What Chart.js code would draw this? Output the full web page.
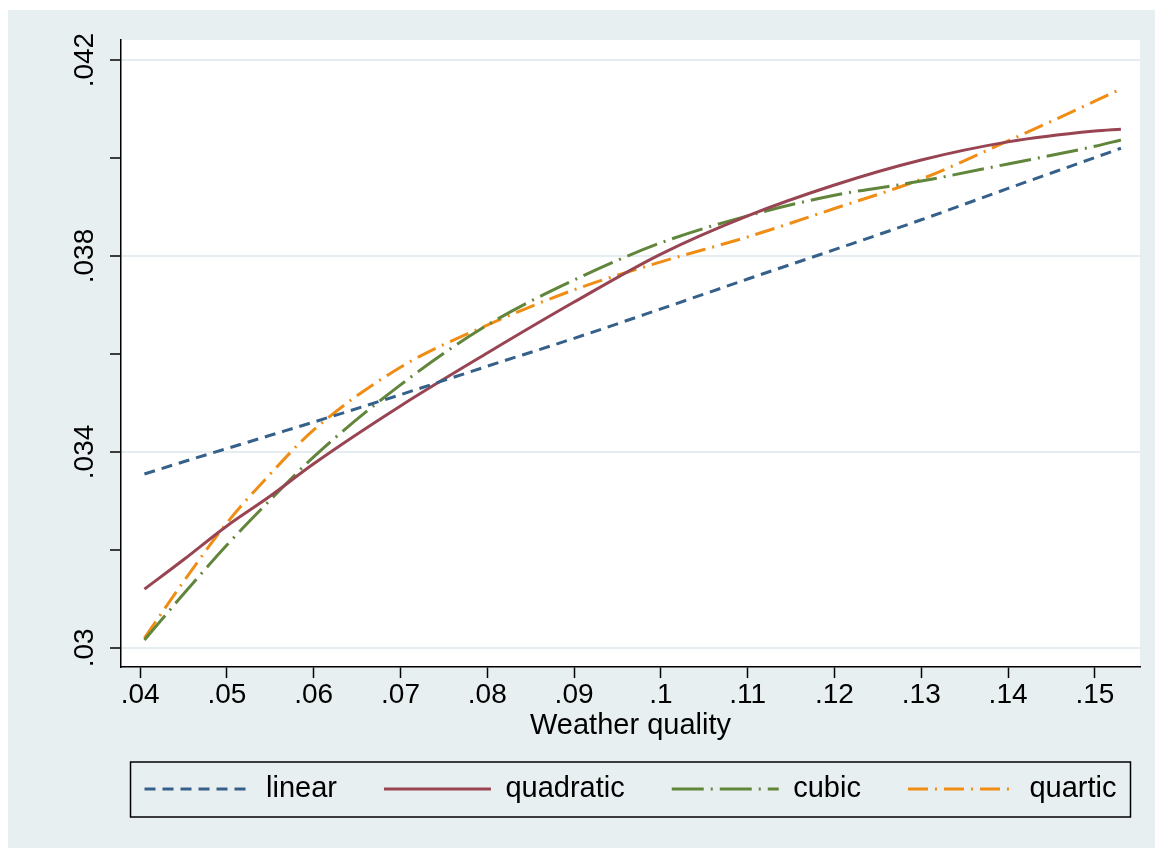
<!DOCTYPE html>
<html>
    <head>
        <meta charset="utf-8">
        <title>Weather quality fits</title>
        <script src="https://cdn.jsdelivr.net/npm/chart.js@4.4.1/dist/chart.umd.min.js"></script>
        <style>
            html, body { margin: 0; padding: 0; background: #fff; }
            canvas { display: block; }
        </style>
    </head>
    <body>
        <canvas id="graph1" width="1155" height="848"></canvas>

        <script>
            // values
            const weather   = [0.0405, 0.045, 0.05, 0.055, 0.06, 0.07, 0.08, 0.09, 0.10, 0.11, 0.12, 0.13, 0.14, 0.15, 0.153];
            const linear    = [0.03355, 0.03380, 0.03407, 0.03434, 0.03461, 0.03517, 0.03575, 0.03632, 0.03692, 0.03753, 0.03813, 0.03874, 0.03938, 0.04001, 0.04020];
            const quadratic = [0.03120, 0.03180, 0.03249, 0.03310, 0.03376, 0.03494, 0.03602, 0.03706, 0.03804, 0.03882, 0.03945, 0.03996, 0.04033, 0.04055, 0.04059];
            const cubic     = [0.03016, 0.03110, 0.03210, 0.03302, 0.03390, 0.03537, 0.03659, 0.03751, 0.03827, 0.03882, 0.03924, 0.03953, 0.03988, 0.04024, 0.04037];
            const quartic   = [0.03020, 0.03135, 0.03255, 0.03355, 0.03445, 0.03573, 0.03659, 0.03731, 0.03788, 0.03839, 0.03897, 0.03957, 0.04035, 0.04116, 0.04141];

            const xTicks      = [0.04, 0.05, 0.06, 0.07, 0.08, 0.09, 0.10, 0.11, 0.12, 0.13, 0.14, 0.15];
            const xTickLabels = ['.04', '.05', '.06', '.07', '.08', '.09', '.1', '.11', '.12', '.13', '.14', '.15'];
            const yTicks      = [0.030, 0.032, 0.034, 0.036, 0.038, 0.040, 0.042];
            const yTickLabels = ['.03', '', '.034', '', '.038', '', '.042'];

            const BG = '#e8eff1';
            const GRID = '#e6edf0';
            const FONT = 'Liberation Sans, Arial, sans-serif';

            function pts(ys) {
                return weather.map((x, i) => ({ x: x, y: ys[i] }));
            }

            function series(label, ys, color, dash) {
                return {
                    label: label,
                    data: pts(ys),
                    borderColor: color,
                    backgroundColor: color,
                    borderWidth: 3,
                    borderDash: dash,
                    pointRadius: 0,
                    pointStyle: 'line',
                    cubicInterpolationMode: 'monotone',
                    fill: false
                };
            }

            const backdrop = {
                id: 'backdrop',
                beforeDraw(chart) {
                    const ctx = chart.ctx, a = chart.chartArea;
                    ctx.save();
                    ctx.fillStyle = '#fff';
                    ctx.fillRect(0, 0, chart.width, chart.height);
                    ctx.fillStyle = BG;
                    ctx.fillRect(8, 10, chart.width - 8, chart.height - 10);
                    ctx.fillStyle = '#fff';
                    ctx.fillRect(a.left, a.top, a.right - a.left, a.bottom - a.top);
                    ctx.restore();
                },
                afterLayout(chart) {
                    // centre the legend row under the plot region, with room for one row
                    const a = chart.chartArea;
                    chart.legend.left = a.left - 150;
                    chart.legend.right = a.right + 150;
                },
                afterDraw(chart) {
                    const boxes = chart.legend.legendHitBoxes;
                    if (!boxes || !boxes.length) return;
                    const first = boxes[0], last = boxes[boxes.length - 1];
                    const mid = first.top + first.height / 2;
                    const ctx = chart.ctx;
                    ctx.save();
                    ctx.strokeStyle = '#000';
                    ctx.lineWidth = 1.5;
                    ctx.strokeRect(first.left - 14, mid - 27, last.left + last.width + 14 - (first.left - 14), 55);
                    ctx.restore();
                }
            };

            new Chart('graph1', {
                type: 'line',
                data: {
                    datasets: [
                        series('linear', linear, '#34608a', [11, 7]),
                        series('quadratic', quadratic, '#984452', []),
                        series('cubic', cubic, '#61853a', [32, 7, 2, 7]),
                        series('quartic', quartic, '#ef8d14', [20, 7, 2, 7])
                    ]
                },
                options: {
                    responsive: false,
                    animation: false,
                    devicePixelRatio: 1,
                    layout: { padding: { top: 40, right: 15, bottom: 34.5, left: 0 } },
                    scales: {
                        x: {
                            type: 'linear',
                            min: 0.0378,
                            max: 0.1552,
                            afterBuildTicks: s => { s.ticks = xTicks.map(v => ({ value: v })); },
                            afterFit: s => { s.height = 60.5; },
                            border: { display: true, color: '#000', width: 1.5 },
                            grid: { drawOnChartArea: false, drawTicks: true, tickLength: 11, tickWidth: 1.5, tickColor: '#000' },
                            ticks: {
                                autoSkip: false, maxRotation: 0, padding: 0, color: '#000',
                                font: { family: FONT, size: 28 },
                                callback: (v, i) => xTickLabels[i]
                            },
                            title: {
                                display: true, text: 'Weather quality', color: '#000',
                                font: { family: FONT, size: 29 },
                                padding: { top: 0, bottom: -15.9 }
                            }
                        },
                        y: {
                            min: 0.02961,
                            max: 0.04241,
                            afterBuildTicks: s => { s.ticks = yTicks.map(v => ({ value: v })); },
                            afterFit: s => { s.width = 121; },
                            border: { display: true, color: '#000', width: 1.5 },
                            grid: {
                                color: c => (yTickLabels[c.index] ? GRID : 'rgba(0,0,0,0)'),
                                lineWidth: 2,
                                tickLength: 11, tickWidth: 1.5, tickColor: '#000'
                            },
                            ticks: {
                                autoSkip: false, minRotation: 90, maxRotation: 90,
                                crossAlign: 'center', padding: -3, color: '#000',
                                font: { family: FONT, size: 28 },
                                callback: (v, i) => yTickLabels[i]
                            }
                        }
                    },
                    plugins: {
                        tooltip: { enabled: false },
                        legend: {
                            position: 'bottom',
                            align: 'center',
                            labels: {
                                usePointStyle: true,
                                pointStyleWidth: 107,
                                padding: 47,
                                color: '#000',
                                font: { family: FONT, size: 29 },
                                generateLabels: chart =>
                                    Chart.defaults.plugins.legend.labels.generateLabels(chart).map(item => {
                                        const ds = chart.data.datasets[item.datasetIndex];
                                        item.lineDash = ds.borderDash;
                                        item.lineWidth = 3;
                                        item.strokeStyle = ds.borderColor;
                                        return item;
                                    })
                            }
                        }
                    }
                },
                plugins: [backdrop]
            });
        </script>
    </body>
</html>
